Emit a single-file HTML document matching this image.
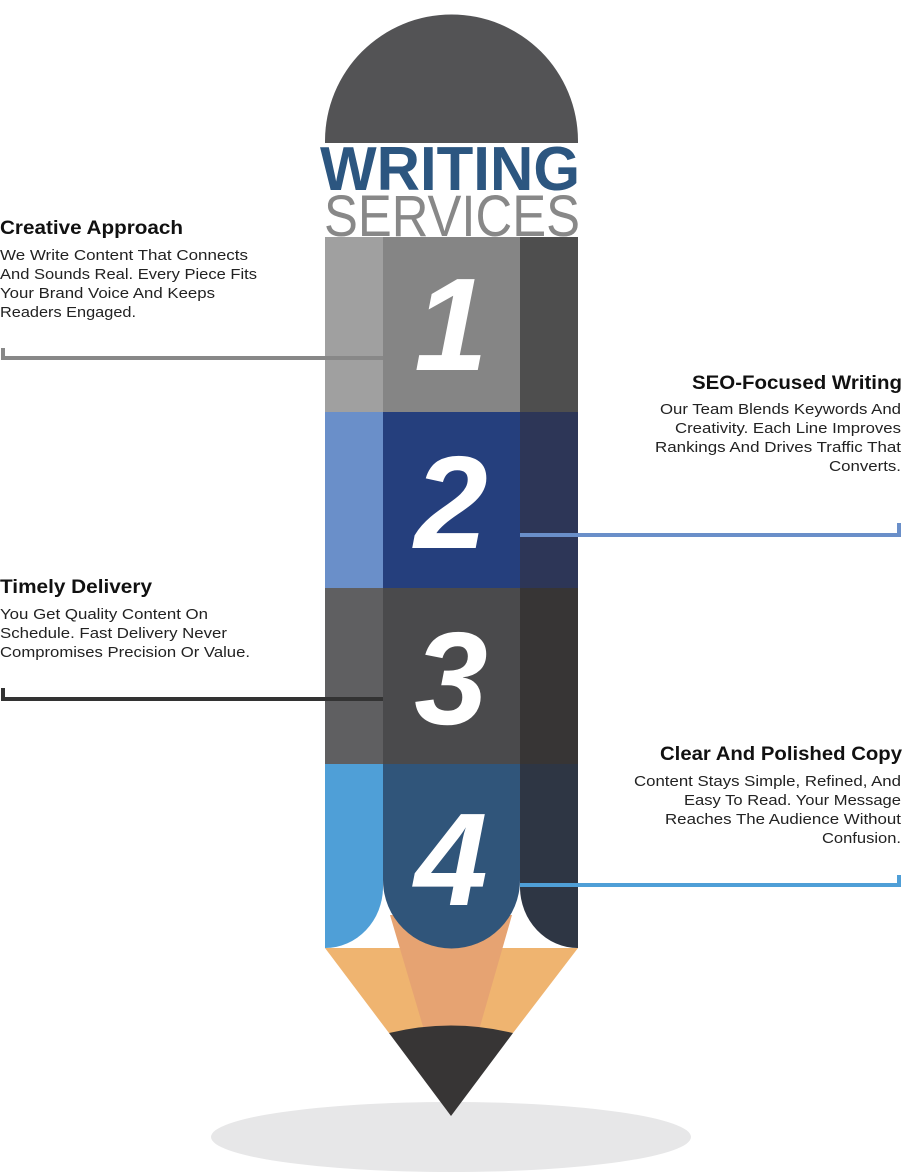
<!DOCTYPE html>
<html><head><meta charset="utf-8"><style>
html,body{margin:0;padding:0;background:#fff;}
svg{display:block;}
.t{font-family:"Liberation Sans",sans-serif;font-weight:bold;font-size:19px;fill:#111;}
.b{font-family:"Liberation Sans",sans-serif;font-size:15px;fill:#222;}
.n{font-family:"Liberation Sans",sans-serif;font-weight:bold;font-style:italic;font-size:132px;fill:#fff;}
</style></head><body>
<svg width="902" height="1174" viewBox="0 0 902 1174" xmlns="http://www.w3.org/2000/svg">
<!-- shadow -->
<ellipse cx="451" cy="1137" rx="240" ry="35" fill="#e7e7e8"/>
<!-- cone -->
<polygon points="325,948 578,948 513,1033 389,1033" fill="#efb470"/>
<polygon points="390,915 512,915 479,1030 424,1030" fill="#e6a372"/>
<path d="M389,1033 Q451,1018 513,1033 L451,1116 Z" fill="#373535"/>
<!-- cap -->
<path d="M325,143 L325,141 A126.5,126.5 0 0 1 578,141 L578,143 Z" fill="#535355"/>
<!-- segment 1 -->
<rect x="325" y="237" width="58" height="175" fill="#a0a0a0"/>
<rect x="383" y="237" width="137" height="175" fill="#858585"/>
<rect x="520" y="237" width="58" height="175" fill="#4e4e4e"/>
<!-- segment 2 -->
<rect x="325" y="412" width="58" height="176" fill="#6a8fc9"/>
<rect x="383" y="412" width="137" height="176" fill="#253f7d"/>
<rect x="520" y="412" width="58" height="176" fill="#2d3657"/>
<!-- segment 3 -->
<rect x="325" y="588" width="58" height="176" fill="#5f5f61"/>
<rect x="383" y="588" width="137" height="176" fill="#4a4a4c"/>
<rect x="520" y="588" width="58" height="176" fill="#373535"/>
<!-- segment 4 -->
<path d="M325,764 L383,764 L383,887 A58,61 0 0 1 325,948 Z" fill="#4f9fd7"/>
<path d="M520,764 L578,764 L578,948 A58,61 0 0 1 520,887 Z" fill="#2e3644"/>
<path d="M383,764 L520,764 L520,880 A68.5,68.5 0 0 1 383,880 Z" fill="#30557a"/>
<!-- title -->
<text x="320" y="190" class="t" style="font-size:62px;fill:#2c5680" textLength="260" lengthAdjust="spacingAndGlyphs">WRITING</text>
<text x="324" y="236" style="font-family:'Liberation Sans',sans-serif;font-size:58px;fill:#888" textLength="256" lengthAdjust="spacingAndGlyphs">SERVICES</text>
<!-- numbers -->
<text x="451" y="370" class="n" text-anchor="middle">1</text>
<text x="451" y="548" class="n" text-anchor="middle">2</text>
<text x="451" y="724" class="n" text-anchor="middle">3</text>
<text x="451" y="905" class="n" text-anchor="middle">4</text>
<!-- connectors -->
<path d="M3,348 L3,358 L383,358" fill="none" stroke="#888" stroke-width="4"/>
<path d="M3,688 L3,699 L383,699" fill="none" stroke="#333" stroke-width="4"/>
<path d="M520,535 L899,535 L899,523" fill="none" stroke="#6a8fc9" stroke-width="4"/>
<path d="M520,885 L899,885 L899,875" fill="none" stroke="#4f9fd7" stroke-width="4"/>
<!-- texts left -->
<text x="0" y="234" class="t" textLength="183" lengthAdjust="spacingAndGlyphs">Creative Approach</text>
<text x="0" y="260" class="b" textLength="248" lengthAdjust="spacingAndGlyphs">We Write Content That Connects</text>
<text x="0" y="279" class="b" textLength="257" lengthAdjust="spacingAndGlyphs">And Sounds Real. Every Piece Fits</text>
<text x="0" y="298" class="b" textLength="215" lengthAdjust="spacingAndGlyphs">Your Brand Voice And Keeps</text>
<text x="0" y="317" class="b" textLength="136" lengthAdjust="spacingAndGlyphs">Readers Engaged.</text>

<text x="0" y="593" class="t" textLength="152" lengthAdjust="spacingAndGlyphs">Timely Delivery</text>
<text x="0" y="619" class="b" textLength="208" lengthAdjust="spacingAndGlyphs">You Get Quality Content On</text>
<text x="0" y="638" class="b" textLength="227" lengthAdjust="spacingAndGlyphs">Schedule. Fast Delivery Never</text>
<text x="0" y="657" class="b" textLength="250" lengthAdjust="spacingAndGlyphs">Compromises Precision Or Value.</text>
<!-- texts right -->
<text x="692" y="389" class="t" textLength="210" lengthAdjust="spacingAndGlyphs">SEO-Focused Writing</text>
<text x="660" y="414" class="b" textLength="241" lengthAdjust="spacingAndGlyphs">Our Team Blends Keywords And</text>
<text x="675" y="433" class="b" textLength="226" lengthAdjust="spacingAndGlyphs">Creativity. Each Line Improves</text>
<text x="655" y="452" class="b" textLength="246" lengthAdjust="spacingAndGlyphs">Rankings And Drives Traffic That</text>
<text x="829" y="471" class="b" textLength="72" lengthAdjust="spacingAndGlyphs">Converts.</text>

<text x="660" y="760" class="t" textLength="242" lengthAdjust="spacingAndGlyphs">Clear And Polished Copy</text>
<text x="634" y="786" class="b" textLength="267" lengthAdjust="spacingAndGlyphs">Content Stays Simple, Refined, And</text>
<text x="684" y="805" class="b" textLength="217" lengthAdjust="spacingAndGlyphs">Easy To Read. Your Message</text>
<text x="665" y="824" class="b" textLength="236" lengthAdjust="spacingAndGlyphs">Reaches The Audience Without</text>
<text x="822" y="843" class="b" textLength="79" lengthAdjust="spacingAndGlyphs">Confusion.</text>
</svg>
</body></html>
